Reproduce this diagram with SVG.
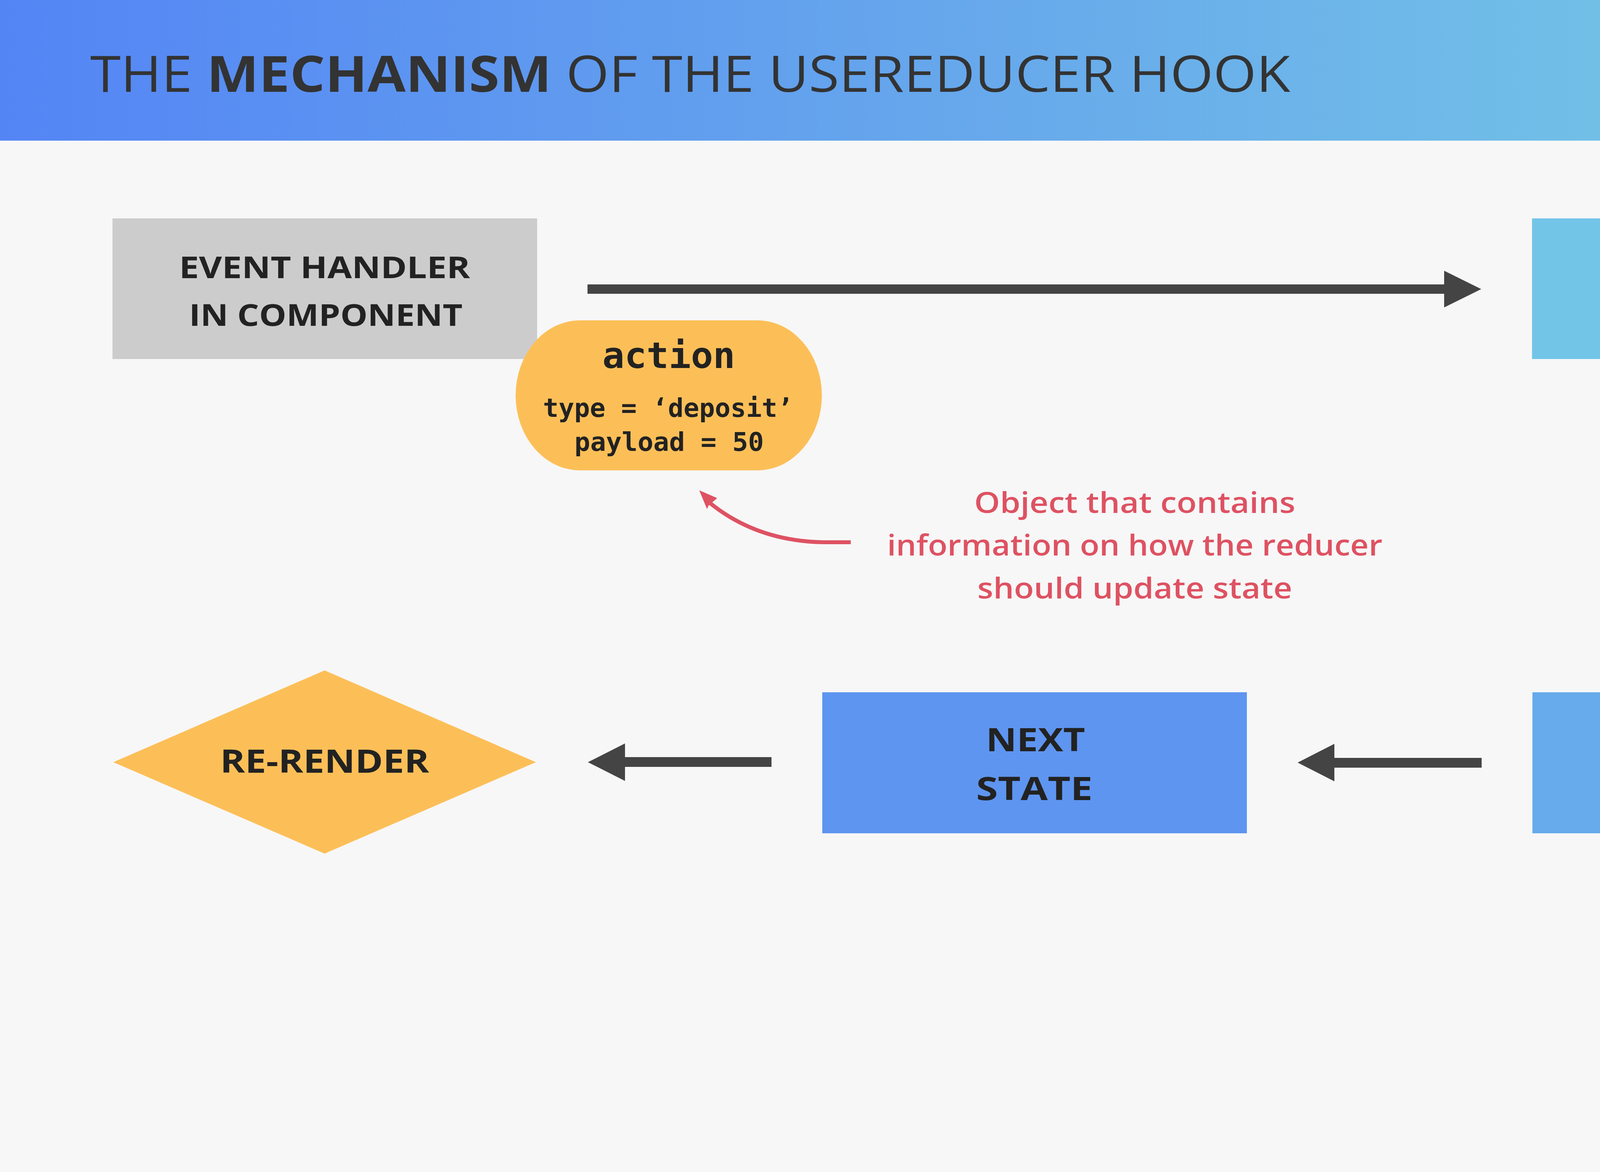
<svg xmlns="http://www.w3.org/2000/svg" width="5333" height="3000" viewBox="0 0 5333 3000">
<defs>
<linearGradient id="hdr" x1="0" y1="0" x2="1" y2="0">
<stop offset="0" stop-color="#5485F5"/>
<stop offset="0.45" stop-color="#66A7EC"/>
<stop offset="1" stop-color="#79D1E4"/>
</linearGradient>
<style>
.lbl{font-family:"Open Sans","Noto Sans","DejaVu Sans",sans-serif;font-weight:700;fill:#222222;text-anchor:middle}
.code{font-family:"DejaVu Sans Mono","Liberation Mono",monospace;font-weight:700;fill:#222222;text-anchor:middle}
.note{font-family:"Open Sans","Noto Sans",sans-serif;font-weight:600;fill:#DE5262;text-anchor:middle;font-size:74px}
.arrow{fill:#444444}
.orange{fill:#FCBF58}
</style>
</defs>
<rect x="0" y="0" width="5333" height="3000" fill="#F7F7F7"/>
<rect x="0" y="0" width="5333" height="360" fill="url(#hdr)"/>
<text x="231" y="235" font-family="'Open Sans','Noto Sans',sans-serif" font-size="128" fill="#333333" textLength="3072" lengthAdjust="spacingAndGlyphs">THE <tspan font-weight="700">MECHANISM</tspan> OF THE USEREDUCER HOOK</text>

<g id="connectors">
<g id="edge-event-dispatch">
<rect class="arrow" x="1504" y="728" width="2200" height="24"/>
<polygon class="arrow" points="3697,693 3792,740 3697,787"/>
</g>
<g id="edge-dispatch-reducer">
<rect class="arrow" x="4459" y="986" width="25" height="625"/>
<polygon class="arrow" points="4424,1607 4519,1607 4471.5,1702"/>
</g>
<g id="edge-reducer-next">
<rect class="arrow" x="3410" y="1940" width="383" height="25"/>
<polygon class="arrow" points="3416,1904 3322,1952 3416,2000"/>
</g>
<g id="edge-next-rerender">
<rect class="arrow" x="1595" y="1938" width="380" height="25"/>
<polygon class="arrow" points="1600,1903 1505,1951 1600,1999"/>
</g>
<g id="edge-note-action">
<path d="M2178,1388 L2108,1388 C1990,1386 1895,1350 1818,1288" fill="none" stroke="#DE5262" stroke-width="10"/>
<polygon fill="#DE5262" points="1790,1255 1836,1275 1814,1294 1810,1303"/>
</g>
</g>

<g id="node-event-handler">
<rect x="288" y="559" width="1087" height="360" fill="#CCCCCC"/>
<text class="lbl" x="831" y="712" font-size="77" textLength="745" lengthAdjust="spacingAndGlyphs">EVENT HANDLER</text>
<text class="lbl" x="834" y="834" font-size="77" textLength="700" lengthAdjust="spacingAndGlyphs">IN COMPONENT</text>
</g>

<g id="node-action">
<rect class="orange" x="1320" y="820" width="784" height="384" rx="165" ry="192"/>
<text class="code" x="1712" y="942" font-size="92" textLength="340" lengthAdjust="spacingAndGlyphs">action</text>
<text class="code" x="1710" y="1067" font-size="65" textLength="640" lengthAdjust="spacingAndGlyphs">type = ‘deposit’</text>
<text class="code" x="1713" y="1154" font-size="65" textLength="485" lengthAdjust="spacingAndGlyphs">payload = 50</text>
</g>

<g id="node-dispatch">
<rect x="3922" y="559" width="1098" height="360" fill="#73C5E8"/>
<text class="code" x="4471" y="780" font-size="109" textLength="535" lengthAdjust="spacingAndGlyphs">dispatch</text>
</g>

<g id="node-reducer">
<rect x="3923" y="1772" width="1098" height="361" fill="#67ABEC"/>
<text class="code" x="4472" y="1991" font-size="109" textLength="462" lengthAdjust="spacingAndGlyphs">reducer</text>
</g>

<g id="node-current-state">
<rect class="orange" x="4137" y="2180" width="670" height="286" rx="130" ry="143"/>
<text class="lbl" x="4474" y="2302" font-size="75" textLength="400" lengthAdjust="spacingAndGlyphs">CURRENT</text>
<text class="lbl" x="4472" y="2401" font-size="75" textLength="264" lengthAdjust="spacingAndGlyphs">STATE</text>
</g>

<g id="node-next-state">
<rect x="2105" y="1772" width="1087" height="361" fill="#5E95F0"/>
<text class="lbl" x="2651" y="1923" font-size="82" textLength="254" lengthAdjust="spacingAndGlyphs">NEXT</text>
<text class="lbl" x="2648" y="2048" font-size="82" textLength="298" lengthAdjust="spacingAndGlyphs">STATE</text>
</g>

<g id="node-rerender">
<polygon class="orange" points="831,1716 1372,1951 831,2185 290,1951"/>
<text class="lbl" x="831" y="1978" font-size="82" textLength="535" lengthAdjust="spacingAndGlyphs">RE-RENDER</text>
</g>

<g id="note">
<text class="note" x="2905" y="1313" textLength="822" lengthAdjust="spacingAndGlyphs">Object that contains</text>
<text class="note" x="2905" y="1422" textLength="1268" lengthAdjust="spacingAndGlyphs">information on how the reducer</text>
<text class="note" x="2905" y="1532" textLength="806" lengthAdjust="spacingAndGlyphs">should update state</text>
</g>
</svg>
